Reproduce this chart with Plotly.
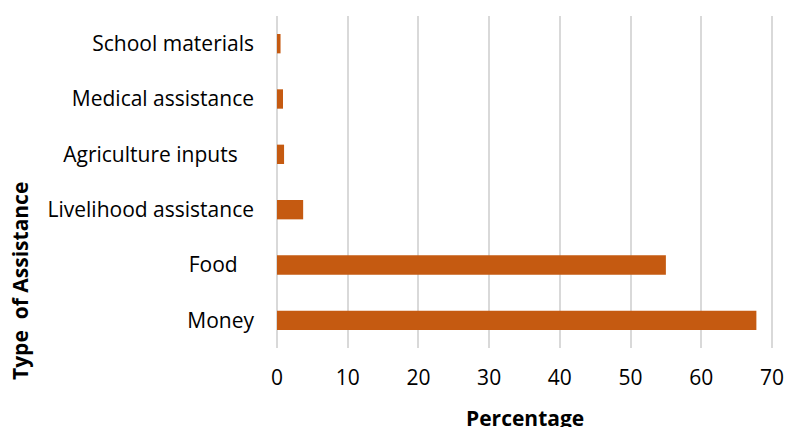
import plotly.graph_objects as go

# Share of households by type of assistance received
categories = ["Money", "Food\u00a0\u00a0\u00a0", "Livelihood assistance",
              "Agriculture inputs\u00a0\u00a0\u00a0", "Medical assistance", "School materials"]
percentages = [67.8, 55.0, 3.7, 1.0, 0.85, 0.5]
x_ticks = [0, 10, 20, 30, 40, 50, 60, 70]

BAR_COLOR = "#C55A11"
GRID_COLOR = "#D9D9D9"
FONT = "Open Sans, Lato, sans-serif"
FONT_SIZE = 21
W, H = 785, 427
M_L, M_R, M_T, M_B = 277, 12, 16, 79

fig = go.Figure(
    go.Bar(
        x=percentages,
        y=categories,
        orientation="h",
        marker=dict(color=BAR_COLOR, line=dict(width=0)),
    )
)

fig.update_layout(
    width=W,
    height=H,
    margin=dict(l=M_L, r=M_R, t=M_T, b=M_B),
    paper_bgcolor="white",
    plot_bgcolor="white",
    bargap=0.65,
    showlegend=False,
    font=dict(family=FONT, size=FONT_SIZE, color="#000000"),
    xaxis=dict(
        range=[0, 70.15],
        tickmode="array",
        tickvals=x_ticks,
        ticktext=[str(v) for v in x_ticks],
        showgrid=True,
        gridcolor=GRID_COLOR,
        gridwidth=2,
        zeroline=True,
        zerolinecolor=GRID_COLOR,
        zerolinewidth=2,
        showline=False,
        ticks="",
        ticklabelstandoff=15,
        ticklabeloverflow="allow",
        automargin=False,
        tickfont=dict(family=FONT, size=FONT_SIZE, color="#000000"),
        fixedrange=True,
    ),
    yaxis=dict(
        categoryorder="array",
        categoryarray=categories,
        showgrid=False,
        zeroline=False,
        showline=False,
        ticks="",
        ticklabelstandoff=22,
        automargin=False,
        tickfont=dict(family=FONT, size=FONT_SIZE, color="#000000"),
        fixedrange=True,
    ),
)

# Axis titles placed from pixel positions converted to paper coordinates
plot_w = W - M_L - M_R
plot_h = H - M_T - M_B
fig.add_annotation(
    text="<b>Percentage</b>",
    x=0.5, xref="paper",
    y=(H - M_B - 418) / plot_h, yref="paper",
    yanchor="middle",
    showarrow=False,
    font=dict(family=FONT, size=FONT_SIZE, color="#000000"),
)
fig.add_annotation(
    text="<b>Type\u00a0\u00a0of Assistance</b>",
    x=(20 - M_L) / plot_w, xref="paper",
    y=(H - M_B - 281) / plot_h, yref="paper",
    xanchor="center", yanchor="middle",
    textangle=-90,
    showarrow=False,
    font=dict(family=FONT, size=FONT_SIZE, color="#000000"),
)

fig.write_html("out.html")
